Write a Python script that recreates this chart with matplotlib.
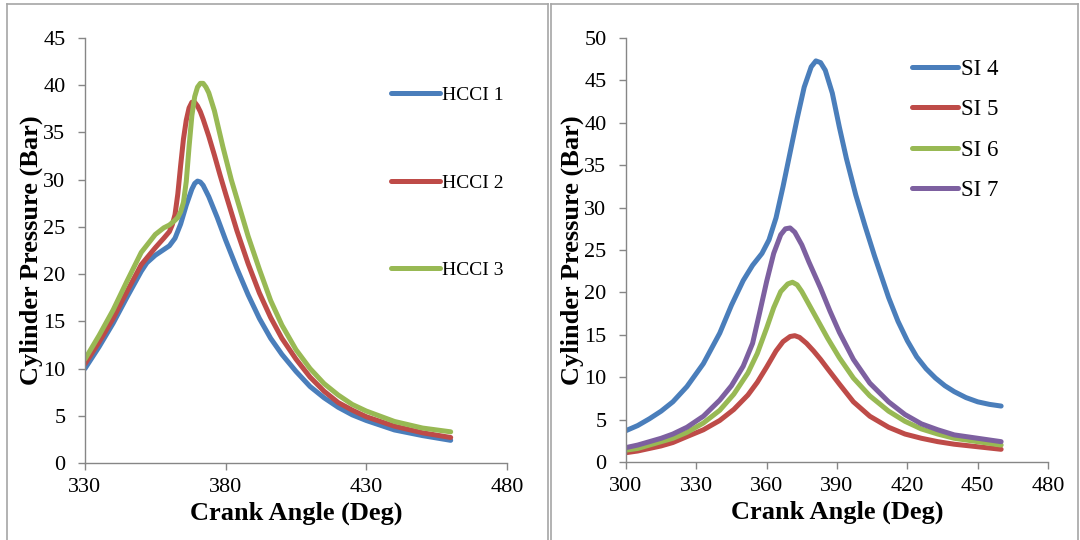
import matplotlib
matplotlib.use('Agg')
import matplotlib.pyplot as plt
from matplotlib.lines import Line2D

plt.rcParams['font.family'] = ['Liberation Serif', 'DejaVu Serif']

# HCCI runs (left panel)
hcci1_x = [330, 335, 340, 345, 350, 352, 355, 358, 360, 362, 364, 366, 368, 369, 370, 371, 372, 374, 377, 380,
           384, 388, 392, 396, 400, 405, 410, 415, 420, 425, 430, 440, 450, 460]
hcci1_y = [10.0, 12.3, 14.8, 17.6, 20.3, 21.2, 22.0, 22.6, 23.0, 23.8, 25.3, 27.3, 29.0, 29.6, 29.85, 29.75, 29.4, 28.2,
           26.0, 23.6, 20.6, 17.8, 15.3, 13.2, 11.5, 9.7, 8.1, 6.9, 5.9, 5.1, 4.5, 3.5, 2.9, 2.4]

hcci2_x = [330, 335, 340, 345, 350, 355, 358, 360, 361, 362, 363, 364, 365, 366, 367, 368, 369, 370, 371, 372,
           374, 376, 378, 380, 384, 388, 392, 396, 400, 405, 410, 415, 420, 425, 430, 440, 450, 460]
hcci2_y = [10.5, 12.8, 15.3, 18.2, 21.0, 22.8, 23.8, 24.5, 25.2, 26.3, 28.5, 31.5, 34.3, 36.3, 37.6, 38.2, 38.2, 37.8,
           37.2, 36.4, 34.6, 32.6, 30.5, 28.5, 24.6, 21.1, 18.0, 15.4, 13.2, 11.0, 9.1, 7.6, 6.4, 5.6, 4.9, 3.9, 3.2, 2.7]

hcci3_x = [330, 335, 340, 345, 350, 355, 358, 360, 362, 363, 364, 365, 366, 367, 368, 369, 370, 371, 372, 373,
           374, 376, 379, 382, 385, 388, 392, 396, 400, 405, 410, 415, 420, 425, 430, 440, 450, 460]
hcci3_y = [11.0, 13.5, 16.2, 19.3, 22.3, 24.2, 24.9, 25.2, 25.7, 26.0, 26.6, 27.6, 29.8, 33.5, 36.8, 38.8, 39.8, 40.2,
           40.2, 39.8, 39.2, 37.3, 33.5, 30.0, 27.0, 24.0, 20.5, 17.2, 14.6, 12.0, 10.0, 8.4, 7.2, 6.2, 5.5, 4.4, 3.7, 3.3]

# SI runs (right panel)
si4_x = [300, 305, 310, 315, 320, 326, 333, 340, 345, 350, 354, 358, 361, 364, 367, 370, 373, 376, 379, 381,
         383, 385, 388, 391, 394, 398, 402, 406, 412, 416, 420, 424, 428, 432, 436, 440, 445, 450, 455, 460]
si4_y = [3.7, 4.3, 5.1, 6.0, 7.1, 8.9, 11.6, 15.2, 18.5, 21.4, 23.2, 24.6, 26.2, 28.8, 32.5, 36.5, 40.5, 44.2, 46.6, 47.3,
         47.1, 46.2, 43.5, 39.5, 35.8, 31.5, 27.8, 24.3, 19.4, 16.6, 14.3, 12.4, 11.0, 9.9, 9.0, 8.3, 7.6, 7.1, 6.8, 6.6]

si5_x = [300, 305, 310, 315, 320, 326, 333, 340, 346, 352, 356, 360, 364, 367, 370, 372, 374, 377, 380, 383,
         386, 391, 397, 404, 412, 419, 426, 433, 440, 450, 460]
si5_y = [1.1, 1.3, 1.6, 1.9, 2.3, 3.0, 3.8, 4.9, 6.2, 7.9, 9.4, 11.2, 13.1, 14.2, 14.8, 14.9, 14.7, 14.0, 13.1, 12.1,
         11.0, 9.2, 7.1, 5.4, 4.1, 3.3, 2.8, 2.4, 2.1, 1.8, 1.5]

si6_x = [300, 305, 310, 315, 320, 326, 333, 340, 346, 352, 356, 360, 363, 366, 369, 371, 373, 375, 377, 380,
         383, 386, 391, 397, 404, 412, 419, 426, 433, 440, 450, 460]
si6_y = [1.4, 1.6, 2.0, 2.4, 2.8, 3.5, 4.6, 6.1, 8.0, 10.5, 12.8, 15.8, 18.2, 20.1, 21.0, 21.2, 20.9, 20.1, 19.1, 17.6,
         16.1, 14.6, 12.3, 9.9, 7.8, 6.0, 4.8, 3.9, 3.3, 2.8, 2.4, 2.0]

si7_x = [300, 305, 310, 315, 320, 326, 333, 340, 345, 350, 354, 357, 360, 363, 366, 368, 370, 372, 375, 378, 383,
         387, 391, 397, 404, 412, 419, 426, 433, 440, 450, 460]
si7_y = [1.7, 2.0, 2.4, 2.8, 3.3, 4.1, 5.4, 7.3, 9.0, 11.3, 14.0, 17.6, 21.3, 24.6, 26.8, 27.5, 27.6, 27.1, 25.6, 23.6,
         20.5, 17.8, 15.3, 12.1, 9.3, 7.1, 5.6, 4.5, 3.8, 3.2, 2.8, 2.4]

blue, red, green, purple = '#4a7ebb', '#be4b48', '#98b954', '#7d60a0'
grey = '#868686'

fig = plt.figure(figsize=(10.8, 5.4), dpi=100)
ax1 = fig.add_axes([0.0787, 0.1426, 0.3907, 0.787])
ax2 = fig.add_axes([0.5796, 0.1444, 0.3908, 0.7852])

style = dict(lw=3.6, solid_capstyle='round', solid_joinstyle='round')
ax1.plot(hcci1_x, hcci1_y, color=blue, label='HCCI 1', **style)
ax1.plot(hcci2_x, hcci2_y, color=red, label='HCCI 2', **style)
ax1.plot(hcci3_x, hcci3_y, color=green, label='HCCI 3', **style)

ax2.plot(si4_x, si4_y, color=blue, label='SI 4', **style)
ax2.plot(si5_x, si5_y, color=red, label='SI 5', **style)
ax2.plot(si6_x, si6_y, color=green, label='SI 6', **style)
ax2.plot(si7_x, si7_y, color=purple, label='SI 7', **style)

ax1.set_xlim(330, 480)
ax1.set_ylim(0, 45)
ax1.set_xticks(range(330, 481, 50))
ax1.set_yticks(range(0, 46, 5))
ax2.set_xlim(300, 480)
ax2.set_ylim(0, 50)
ax2.set_xticks(range(300, 481, 30))
ax2.set_yticks(range(0, 51, 5))

for ax in (ax1, ax2):
    for s in ('top', 'right'):
        ax.spines[s].set_visible(False)
    for s in ('left', 'bottom'):
        ax.spines[s].set_color(grey)
        ax.spines[s].set_linewidth(1.0)
    ax.tick_params(axis='both', colors=grey, length=5, width=1.0, labelsize=16, labelcolor='black')
    ax.tick_params(axis='x', pad=6)
    ax.tick_params(axis='y', pad=9)
    ax.set_xlabel('Crank Angle (Deg)', fontsize=19, fontweight='bold', labelpad=3)
    ax.set_ylabel('Cylinder Pressure (Bar)', fontsize=19, fontweight='bold', labelpad=0)

ax1.legend(loc='upper left', bbox_to_anchor=(0.362, 0.840), bbox_transform=fig.transFigure,
           frameon=False, fontsize=14, handlelength=2.5, handletextpad=0.15,
           labelspacing=3.6, borderpad=0, borderaxespad=0)
ax2.legend(loc='upper left', bbox_to_anchor=(0.844, 0.891), bbox_transform=fig.transFigure,
           frameon=False, fontsize=16.5, handlelength=2.05, handletextpad=0.1,
           labelspacing=0.85, borderpad=0, borderaxespad=0)

# panel borders
for x0, x1 in ((7, 548), (551, 1078)):
    for seg in (([x0, x1], [536, 536]), ([x0, x0], [0, 536]), ([x1, x1], [0, 536])):
        fig.add_artist(Line2D([v / 1080 for v in seg[0]], [v / 540 for v in seg[1]],
                              transform=fig.transFigure, color='#a6a6a6', lw=1.2))

fig.savefig('out.png', dpi=100)
